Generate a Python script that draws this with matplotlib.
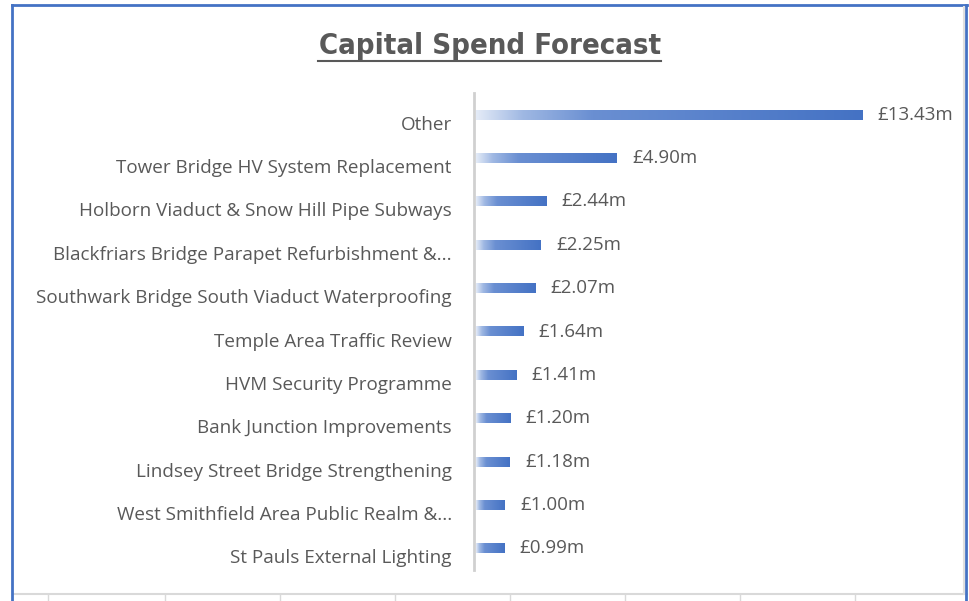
import numpy as np
import matplotlib.pyplot as plt
from matplotlib.colors import LinearSegmentedColormap
from matplotlib.lines import Line2D
import matplotlib.transforms as mtransforms

# Data (millions of pounds), top to bottom as shown
projects = ["Other",
            "Tower Bridge HV System Replacement",
            "Holborn Viaduct & Snow Hill Pipe Subways",
            "Blackfriars Bridge Parapet Refurbishment &...",
            "Southwark Bridge South Viaduct Waterproofing",
            "Temple Area Traffic Review",
            "HVM Security Programme",
            "Bank Junction Improvements",
            "Lindsey Street Bridge Strengthening",
            "West Smithfield Area Public Realm &...",
            "St Pauls External Lighting"]
spend = [13.43, 4.90, 2.44, 2.25, 2.07, 1.64, 1.41, 1.20, 1.18, 1.00, 0.99]
value_labels = ["£13.43m", "£4.90m", "£2.44m", "£2.25m", "£2.07m", "£1.64m",
                "£1.41m", "£1.20m", "£1.18m", "£1.00m", "£0.99m"]

W, H = 970, 601
fig = plt.figure(figsize=(W / 100, H / 100), dpi=100)
fig.patch.set_facecolor("white")

font = ["Open Sans", "DejaVu Sans"]
grey = "#595959"

# plot area: axis line at x~474, y from 93 to 570
ax = fig.add_axes([474 / W, 1 - 570 / H, (940 - 474) / W, (570 - 93) / H])
px_per_unit = 28.9
ax.set_xlim(-0.08, (940 - 474) / px_per_unit)

cmap = LinearSegmentedColormap.from_list(
    "grad", [(0.0, "#e4ebf7"), (0.12, "#9fb8e3"), (0.3, "#6a8fd2"), (1.0, "#4472c4")])
grad = np.linspace(0, 1, 256).reshape(1, -1)
bar_h = 0.23
for i, v in enumerate(spend):
    ax.imshow(grad, cmap=cmap, aspect="auto", extent=(0, v, i + bar_h / 2, i - bar_h / 2),
              interpolation="bilinear", zorder=2)
    ax.text(v + 15 / px_per_unit, i, value_labels[i], va="center", ha="left",
            fontsize=13.5, color=grey, family=font)
ax.set_ylim(len(projects) - 0.5, -0.5)

ax.set_yticks(range(len(projects)))
ax.set_yticklabels(projects, fontsize=13.6, color=grey, family=font)
ax.tick_params(axis="y", length=0, pad=16)
shift = mtransforms.ScaledTranslation(0, -8 / 100, fig.dpi_scale_trans)
for lab in ax.get_yticklabels():
    lab.set_transform(lab.get_transform() + shift)
ax.set_xticks([])
for s in ["top", "right", "bottom"]:
    ax.spines[s].set_visible(False)
ax.spines["left"].set_color("#d0d0d0")
ax.spines["left"].set_linewidth(2)

# title with underline
fig.text(490 / W, 1 - 46 / H, "Capital Spend Forecast", ha="center", va="center",
         fontsize=21, fontweight="bold", fontstretch="condensed", color=grey,
         family=["DejaVu Sans"])
fig.add_artist(Line2D([318 / W, 661 / W], [1 - 61 / H, 1 - 61 / H], color=grey, lw=1.5))

# chart frame and spreadsheet grid below
def fl(xs, ys, **kw):
    fig.add_artist(Line2D([x / W for x in xs], [1 - y / H for y in ys], **kw))

fl([13, 967], [594, 594], color="#d9d9d9", lw=1.5)
for gx in [48, 165, 280, 395, 510, 625, 740, 855]:
    fl([gx, gx], [594, 601], color="#d9d9d9", lw=1)
fl([12.5, 12.5], [5, 601], color="#4472c4", lw=2)
fl([966.5, 966.5], [5, 601], color="#4472c4", lw=2)
fl([12, 967], [5, 5], color="#4472c4", lw=2)
fl([964, 964], [7, 594], color="#e0e0e0", lw=1.5)

fig.savefig("out.png", dpi=100)
